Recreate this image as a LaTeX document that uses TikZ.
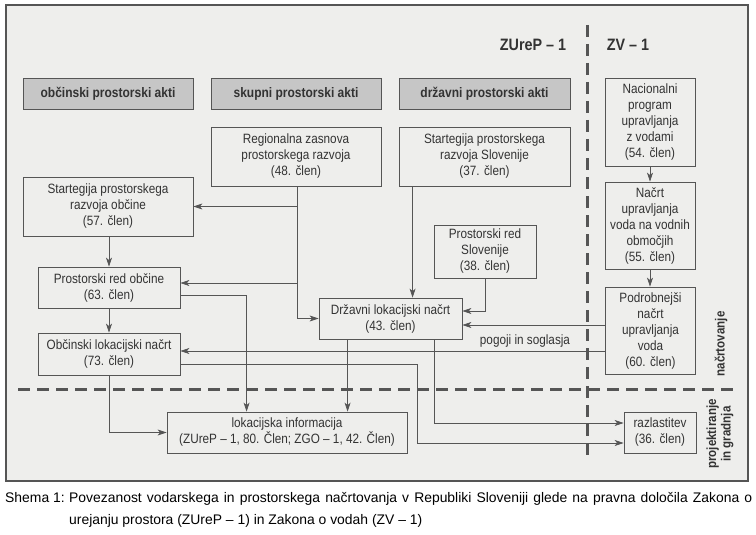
\documentclass[tikz,border=0pt]{standalone}
\usepackage{fontspec}
\setmainfont[FakeStretch=0.87]{Liberation Sans}
\newfontfamily\capfont{Liberation Sans}
\usetikzlibrary{arrows.meta}
\definecolor{bgcol}{HTML}{EEEEEC}
\definecolor{hdcol}{HTML}{C6C6C6}
\definecolor{lncol}{HTML}{555555}
\definecolor{txcol}{HTML}{333333}
\begin{document}
\begin{tikzpicture}[x=1pt,y=-1pt,
  boxbase/.style={draw=lncol, line width=0.8pt, text=txcol, align=center, inner sep=0pt},
  plainbox/.style={boxbase, fill=bgcol, font=\fontsize{13.5}{16}\selectfont},
  headbox/.style={boxbase, fill=hdcol, font=\fontsize{13.8}{15}\selectfont\bfseries},
  arr/.style={draw=lncol, line width=0.7pt, -{Stealth[length=9pt,width=6pt,inset=2.5pt]}},
  dashline/.style={draw=lncol, line width=3pt, dash pattern=on 12pt off 7pt},
  titletext/.style={text=txcol, font=\fontsize{16.5}{18}\selectfont\bfseries},
  sidetext/.style={text=txcol, font=\fontsize{13.3}{14.5}\selectfont\bfseries, rotate=90, align=center},
  captext/.style={text=black, font=\capfont\fontsize{13.9}{22}\selectfont, inner sep=0pt}
]
\useasboundingbox (0,0) rectangle (756,535);
\fill[white] (0,0) rectangle (756,535);
\draw[fill=bgcol, draw=lncol, line width=1.2pt] (6,5) rectangle (748,481);

% dashed separators
\draw[dashline] (587,25) -- (587,458);
\draw[dashline] (18,389) -- (733,389);

% titles
\node[titletext] (tz) at (533,45) {ZUreP – 1};
\node[titletext] (tv) at (628,45) {ZV – 1};

% header boxes
\node[headbox, minimum width=170pt, minimum height=31pt] (hob) at (108,93.5) {občinski prostorski akti};
\node[headbox, minimum width=170pt, minimum height=31pt] (hsk) at (296,93.5) {skupni prostorski akti};
\node[headbox, minimum width=171pt, minimum height=31pt] (hdr) at (484.5,93.5) {državni prostorski akti};

% boxes
\node[plainbox, minimum width=170pt, minimum height=59pt] (reg) at (296,156.5) {Regionalna zasnova\\prostorskega razvoja\\(48. člen)};
\node[plainbox, minimum width=171pt, minimum height=59pt] (sslo) at (484.5,156.5) {Startegija prostorskega\\razvoja Slovenije\\(37. člen)};
\node[plainbox, minimum width=170pt, minimum height=59pt] (sob) at (108,206.5) {Startegija prostorskega\\razvoja občine\\(57. člen)};
\node[plainbox, minimum width=90pt, minimum height=88pt] (nac) at (650,122) {Nacionalni\\program\\upravljanja\\z vodami\\(54. člen)};
\node[plainbox, minimum width=90pt, minimum height=87pt] (nuv) at (650,225.5) {Načrt\\upravljanja\\voda na vodnih\\območjih\\(55. člen)};
\node[plainbox, minimum width=90pt, minimum height=87pt] (pod) at (650.5,330.5) {Podrobnejši\\načrt\\upravljanja\\voda\\(60. člen)};
\node[plainbox, minimum width=102pt, minimum height=53pt] (prs) at (485,251.5) {Prostorski red\\Slovenije\\(38. člen)};
\node[plainbox, minimum width=143pt, minimum height=41pt] (dln) at (390.5,318.5) {Državni lokacijski načrt\\(43. člen)};
\node[plainbox, minimum width=142pt, minimum height=41pt] (pro) at (109,287.5) {Prostorski red občine\\(63. člen)};
\node[plainbox, minimum width=142pt, minimum height=42pt] (oln) at (109,354) {Občinski lokacijski načrt\\(73. člen)};
\node[plainbox, minimum width=240pt, minimum height=41pt] (lok) at (287,432.5) {lokacijska informacija\\(ZUreP – 1, 80. Člen; ZGO – 1, 42. Člen)};
\node[plainbox, minimum width=72pt, minimum height=41pt] (raz) at (660,432.5) {razlastitev\\(36. člen)};

% side labels
\node[sidetext] (snac) at (721,344) {načrtovanje};
\node[sidetext] (sproj) at (720,434) {projektiranje\\in gradnja};

% helper coordinates
\coordinate (rx) at ([xshift=1pt]reg.south);
\coordinate (pin) at ([yshift=4.5pt]pro.east);
\coordinate (pout) at ([yshift=-7.5pt]pro.east);
\coordinate (din1) at ([yshift=7.5pt]dln.east);
\coordinate (din2) at ([yshift=-6.5pt]dln.east);
\coordinate (oin) at ([yshift=3pt]oln.east);
\coordinate (oout) at ([yshift=-10pt]oln.east);
\coordinate (rin1) at ([yshift=9.5pt]raz.west);
\coordinate (rin2) at ([yshift=-10.5pt]raz.west);
\coordinate (sx) at ([xshift=14pt]sslo.south west);
\coordinate (dx1) at ([xshift=29pt]dln.south west);
\coordinate (dx2) at ([xshift=116pt]dln.south west);
\coordinate (lx) at ([xshift=80pt]lok.north west);
\coordinate (ox) at ([xshift=237pt]oout);

% connectors
\draw[arr] (rx) |- (dln.west);
\draw[arr] (rx |- sob.east) -- (sob.east);
\draw[arr] (rx |- pin) -- (pin);
\draw[arr] (sob.south -| pro.north) -- (pro.north);
\draw[arr] (pro.south) -- (oln.north);
\draw[arr] (sx) -- (sx |- dln.north);
\draw[arr] (prs.south) |- (din1);
\draw[arr] (pod.west |- din2) -- (din2);
\draw[arr] (pod.west |- oin) -- (oin);
\node[text=txcol, font=\fontsize{13.5}{15}\selectfont, anchor=base] (pog) at (525,344) {pogoji in soglasja};
\draw[arr] (pout) -| (lx);
\draw[arr] (oout) -- (ox) |- (rin2);
\draw[arr] (oln.south) |- (lok.west);
\draw[arr] (dx1) -- (dx1 |- lok.north);
\draw[arr] (dx2) |- (rin1);
\draw[arr] (nac.south) -- (nuv.north);
\draw[arr] (nuv.south) -- (nuv.south |- pod.north);

% caption
\node[captext, anchor=base west] (cap1) at (5,502) {Shema 1:};
\node[captext, anchor=base west] (cap2) at (69,502) {\makebox[683pt][s]{Povezanost vodarskega in prostorskega načrtovanja v Republiki Sloveniji glede na pravna določila Zakona o}};
\node[captext, anchor=base west] (cap3) at (69,524) {urejanju prostora (ZUreP – 1) in Zakona o vodah (ZV – 1)};
\end{tikzpicture}
\end{document}
